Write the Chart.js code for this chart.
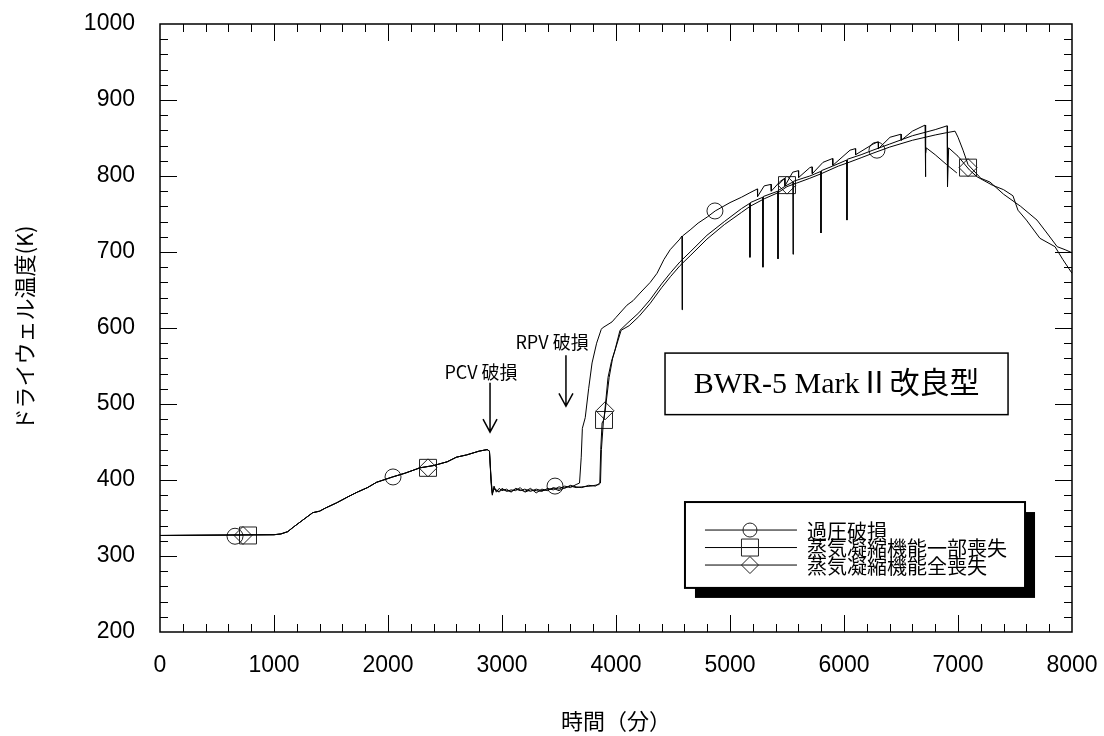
<!DOCTYPE html>
<html>
<head>
<meta charset="utf-8">
<script src="https://cdn.jsdelivr.net/npm/chart.js@4.4.0/dist/chart.umd.min.js"></script>
<style>
  html, body { margin: 0; padding: 0; background: #fff; }
</style>
</head>
<body>
<canvas id="chart" width="1104" height="736"></canvas>
<script>
// series: [time (min), drywell temperature (K)]
const earlyPart = [[0,327],[1000,328],[1060,329],[1120,332],[1170,338],[1250,347],[1340,357],[1400,359],[1450,363],
  [1550,370],[1650,378],[1730,384],[1820,390],[1900,397],[2040,404],[2150,409],[2280,416],[2400,419],[2520,424],
  [2600,430],[2690,433],[2800,438],[2870,440],[2890,438]];

const overPressure = [[2905,395],[2915,380],[2930,392],[2950,384],[2975,389],[3000,386],[3040,388],[3080,384],
  [3120,389],[3160,387],[3200,385],[3250,389],[3300,383],[3350,388],[3400,386],[3450,390],[3500,388],[3550,392],
  [3600,390],[3650,394],[3680,396],[3695,430],[3705,468],[3730,482],[3760,520],[3790,554],[3830,580],[3870,598],
  [3880,600],[3965,608],[4000,614],[4096,630],[4150,636],[4211,646],[4300,660],[4360,672],[4420,690],[4475,703],
  [4560,717],[4578,721],[4580,624],[4583,721],[4650,729],[4720,738],[4800,746],[4870,754],[5000,765],[5100,772],
  [5175,778],[5240,783],[5242,773],[5300,787],[5360,789],[5362,780],[5440,793],[5480,797],[5482,787],[5550,805],
  [5600,807],[5602,798],[5700,811],[5720,812],[5722,803],[5816,818],[5900,823],[5902,814],[6053,834],[6100,836],
  [6102,828],[6254,842],[6300,845],[6302,836],[6404,851],[6500,855],[6502,847],[6600,859],[6711,867],[6714,799],
  [6718,830],[6722,837],[6800,828],[6900,815],[6990,804]];

const partialLoss = [[2905,400],[2915,383],[2930,390],[2950,386],[2975,385],[3000,389],[3040,385],[3080,387],
  [3120,386],[3160,390],[3200,384],[3250,387],[3300,386],[3350,385],[3400,389],[3450,387],[3500,391],[3550,389],
  [3600,393],[3650,391],[3700,390],[3760,393],[3820,392],[3858,396],[3866,440],[3878,475],[3895,480],[3930,535],
  [3960,556],[3991,571],[4035,597],[4105,607],[4200,620],[4298,637],[4400,658],[4480,673],[4561,687],[4650,700],
  [4798,722],[4950,740],[5100,757],[5173,764],[5175,693],[5178,765],[5287,772],[5289,680],[5292,773],[5419,780],
  [5421,691],[5424,781],[5500,788],[5551,792],[5553,697],[5556,793],[5700,800],[5796,806],[5798,725],[5801,807],
  [5900,813],[6024,821],[6026,742],[6029,822],[6150,828],[6254,834],[6400,842],[6600,853],[6800,861],[6904,866],
  [6908,786],[6918,837],[7000,826],[7100,808],[7167,799],[7300,788],[7400,782],[7482,774],[7526,755],[7600,742],
  [7719,718],[7851,707],[7920,690],[8000,672]];

const totalLoss = [[2905,398],[2915,382],[2930,388],[2950,387],[2975,384],[3000,388],[3040,386],[3080,385],
  [3120,388],[3160,386],[3200,388],[3250,385],[3300,388],[3350,386],[3400,387],[3450,389],[3500,386],[3550,390],
  [3600,392],[3650,390],[3700,391],[3780,392],[3850,394],[3864,396],[3872,440],[3890,478],[3904,490],[3940,535],
  [3970,560],[4000,575],[4045,597],[4115,603],[4200,615],[4298,632],[4400,653],[4480,668],[4561,682],[4650,695],
  [4798,717],[4950,736],[5100,752],[5175,760],[5300,770],[5421,778],[5500,786],[5700,797],[5800,803],[5950,813],
  [6026,817],[6150,824],[6254,830],[6400,838],[6600,847],[6800,854],[6900,857],[6974,859],[7000,851],[7044,834],
  [7088,815],[7200,797],[7281,792],[7400,776],[7550,760],[7693,742],[7780,725],[7870,707],[7940,703],[8000,699]];

// marker positions on each curve
const circleMarks = [[658,326],[2044,404],[3465,392],[4868,754],[6289,834]];
const squareMarks = [[772,327],[2351,416],[3895,479],[5500,788],[7088,811]];
const diamondMarks = [[728,327],[2351,416],[3904,491],[5500,788],[7088,811]];

const seriesLabels = ['過圧破損', '蒸気凝縮機能一部喪失', '蒸気凝縮機能全喪失'];

const jp = '"Noto Sans CJK JP", sans-serif';
const numFont = '"Liberation Sans Narrow", "Liberation Sans", sans-serif';

function toXY(pairs) {
  return pairs.map(p => ({ x: p[0], y: p[1] }));
}

function lineSet(pairs) {
  return {
    data: toXY(earlyPart.concat(pairs)),
    showLine: true,
    borderColor: '#000',
    borderWidth: 1,
    pointRadius: 0,
    tension: 0
  };
}

function markSet(pairs, style, radius) {
  return {
    data: toXY(pairs),
    showLine: false,
    pointStyle: style,
    pointRadius: radius,
    borderColor: '#222',
    borderWidth: 1,
    backgroundColor: 'rgba(0,0,0,0)'
  };
}

// frame with inward ticks on all four sides
const frameTicks = {
  id: 'frameTicks',
  afterDatasetsDraw(chart) {
    const { ctx, chartArea: a, scales: { x, y } } = chart;
    ctx.save();
    ctx.strokeStyle = '#000';
    ctx.lineWidth = 1.5;
    ctx.strokeRect(a.left, a.top, a.right - a.left, a.bottom - a.top);
    ctx.lineWidth = 1;
    ctx.beginPath();
    for (let t = 200; t < 8000; t += 200) {
      const px = Math.round(x.getPixelForValue(t)) + 0.5;
      const len = t % 1000 === 0 ? 17 : 8;
      ctx.moveTo(px, a.bottom); ctx.lineTo(px, a.bottom - len);
      ctx.moveTo(px, a.top); ctx.lineTo(px, a.top + len);
    }
    for (let v = 220; v < 1000; v += 20) {
      const py = Math.round(y.getPixelForValue(v)) + 0.5;
      const len = v % 100 === 0 ? 17 : 8;
      ctx.moveTo(a.left, py); ctx.lineTo(a.left + len, py);
      ctx.moveTo(a.right, py); ctx.lineTo(a.right - len, py);
    }
    ctx.stroke();
    ctx.restore();
  }
};

function arrow(ctx, px, top, tip) {
  ctx.beginPath();
  ctx.moveTo(px, top); ctx.lineTo(px, tip);
  ctx.moveTo(px - 7, tip - 13); ctx.lineTo(px, tip); ctx.lineTo(px + 7, tip - 13);
  ctx.stroke();
}

function drawMark(ctx, style, cx, cy) {
  ctx.beginPath();
  if (style === 'circle') {
    ctx.arc(cx, cy, 7, 0, Math.PI * 2);
  } else if (style === 'rect') {
    ctx.rect(cx - 8.5, cy - 8.5, 17, 17);
  } else {
    ctx.moveTo(cx, cy - 8.5); ctx.lineTo(cx + 8.5, cy); ctx.lineTo(cx, cy + 8.5); ctx.lineTo(cx - 8.5, cy);
    ctx.closePath();
  }
  ctx.stroke();
}

// arrows, case box and legend box
const notes = {
  id: 'notes',
  afterDraw(chart) {
    const { ctx, scales: { x, y } } = chart;
    ctx.save();
    ctx.strokeStyle = '#000';
    ctx.fillStyle = '#000';
    ctx.lineWidth = 1.5;

    // failure arrows
    arrow(ctx, x.getPixelForValue(2895), y.getPixelForValue(528), y.getPixelForValue(463));
    arrow(ctx, x.getPixelForValue(3561), y.getPixelForValue(564), y.getPixelForValue(497));
    ctx.font = '18px ' + jp;
    ctx.textAlign = 'center';
    ctx.textBaseline = 'middle';
    ctx.fillText('PCV 破損', x.getPixelForValue(2816), y.getPixelForValue(542));
    ctx.fillText('RPV 破損', x.getPixelForValue(3439), y.getPixelForValue(582));

    // plant type box
    const bx0 = x.getPixelForValue(4430), bx1 = x.getPixelForValue(7439);
    const by0 = y.getPixelForValue(567), by1 = y.getPixelForValue(486);
    ctx.fillStyle = '#fff';
    ctx.fillRect(bx0, by0, bx1 - bx0, by1 - by0);
    ctx.strokeRect(bx0, by0, bx1 - bx0, by1 - by0);
    ctx.fillStyle = '#000';
    ctx.font = '30px "Liberation Serif", "Noto Sans CJK JP", serif';
    ctx.fillText('BWR-5 MarkⅡ改良型', (bx0 + bx1) / 2, (by0 + by1) / 2 + 1);

    // legend with drop shadow
    const lx0 = x.getPixelForValue(4605), lx1 = x.getPixelForValue(7588);
    const ly0 = y.getPixelForValue(371), ly1 = y.getPixelForValue(258);
    ctx.fillRect(lx0 + 10, ly0 + 10, lx1 - lx0, ly1 - ly0);
    ctx.fillStyle = '#fff';
    ctx.fillRect(lx0, ly0, lx1 - lx0, ly1 - ly0);
    ctx.lineWidth = 2;
    ctx.strokeRect(lx0, ly0, lx1 - lx0, ly1 - ly0);
    const styles = ['circle', 'rect', 'rectRot'];
    ctx.font = '20px ' + jp;
    ctx.textAlign = 'left';
    ctx.fillStyle = '#000';
    seriesLabels.forEach((label, i) => {
      const ry = ly0 + 28 + i * 17.5;
      ctx.lineWidth = 1;
      ctx.strokeStyle = '#000';
      ctx.beginPath();
      ctx.moveTo(lx0 + 20, ry); ctx.lineTo(lx0 + 112, ry);
      ctx.stroke();
      ctx.strokeStyle = '#222';
      drawMark(ctx, styles[i], lx0 + 65, ry);
      ctx.fillText(label, lx0 + 122, ry + 1);
    });
    ctx.restore();
  }
};

new Chart(document.getElementById('chart'), {
  type: 'scatter',
  data: {
    datasets: [
      lineSet(overPressure),
      lineSet(partialLoss),
      lineSet(totalLoss),
      markSet(circleMarks, 'circle', 8),
      markSet(squareMarks, 'rect', 12),
      markSet(diamondMarks, 'rectRot', 9)
    ]
  },
  options: {
    responsive: false,
    animation: false,
    devicePixelRatio: 1,
    layout: { padding: { left: 0, top: 24, right: 32, bottom: 0 } },
    plugins: { legend: { display: false }, tooltip: { enabled: false } },
    scales: {
      x: {
        type: 'linear',
        min: 0,
        max: 8000,
        afterFit(s) { s.height = 104; s.paddingLeft = 0; s.paddingRight = 0; },
        grid: { display: false, drawTicks: false },
        border: { display: false },
        ticks: { stepSize: 1000, autoSkip: false, maxRotation: 0, padding: 20, color: '#000',
          font: { family: numFont, size: 23 }, callback: v => String(v) },
        title: { display: true, text: '時間（分）', color: '#000', padding: { top: 2, bottom: 2 },
          font: { family: jp, size: 22 } }
      },
      y: {
        min: 200,
        max: 1000,
        afterFit(s) { s.width = 160; s.paddingTop = 0; s.paddingBottom = 0; },
        grid: { display: false, drawTicks: false },
        border: { display: false },
        ticks: { stepSize: 100, padding: 25, color: '#000', font: { family: numFont, size: 23 },
          callback: v => String(v) },
        title: { display: true, text: 'ドライウェル温度(K)', color: '#000', padding: { top: 11, bottom: 0 },
          font: { family: jp, size: 22 } }
      }
    }
  },
  plugins: [frameTicks, notes]
});
</script>
</body>
</html>
